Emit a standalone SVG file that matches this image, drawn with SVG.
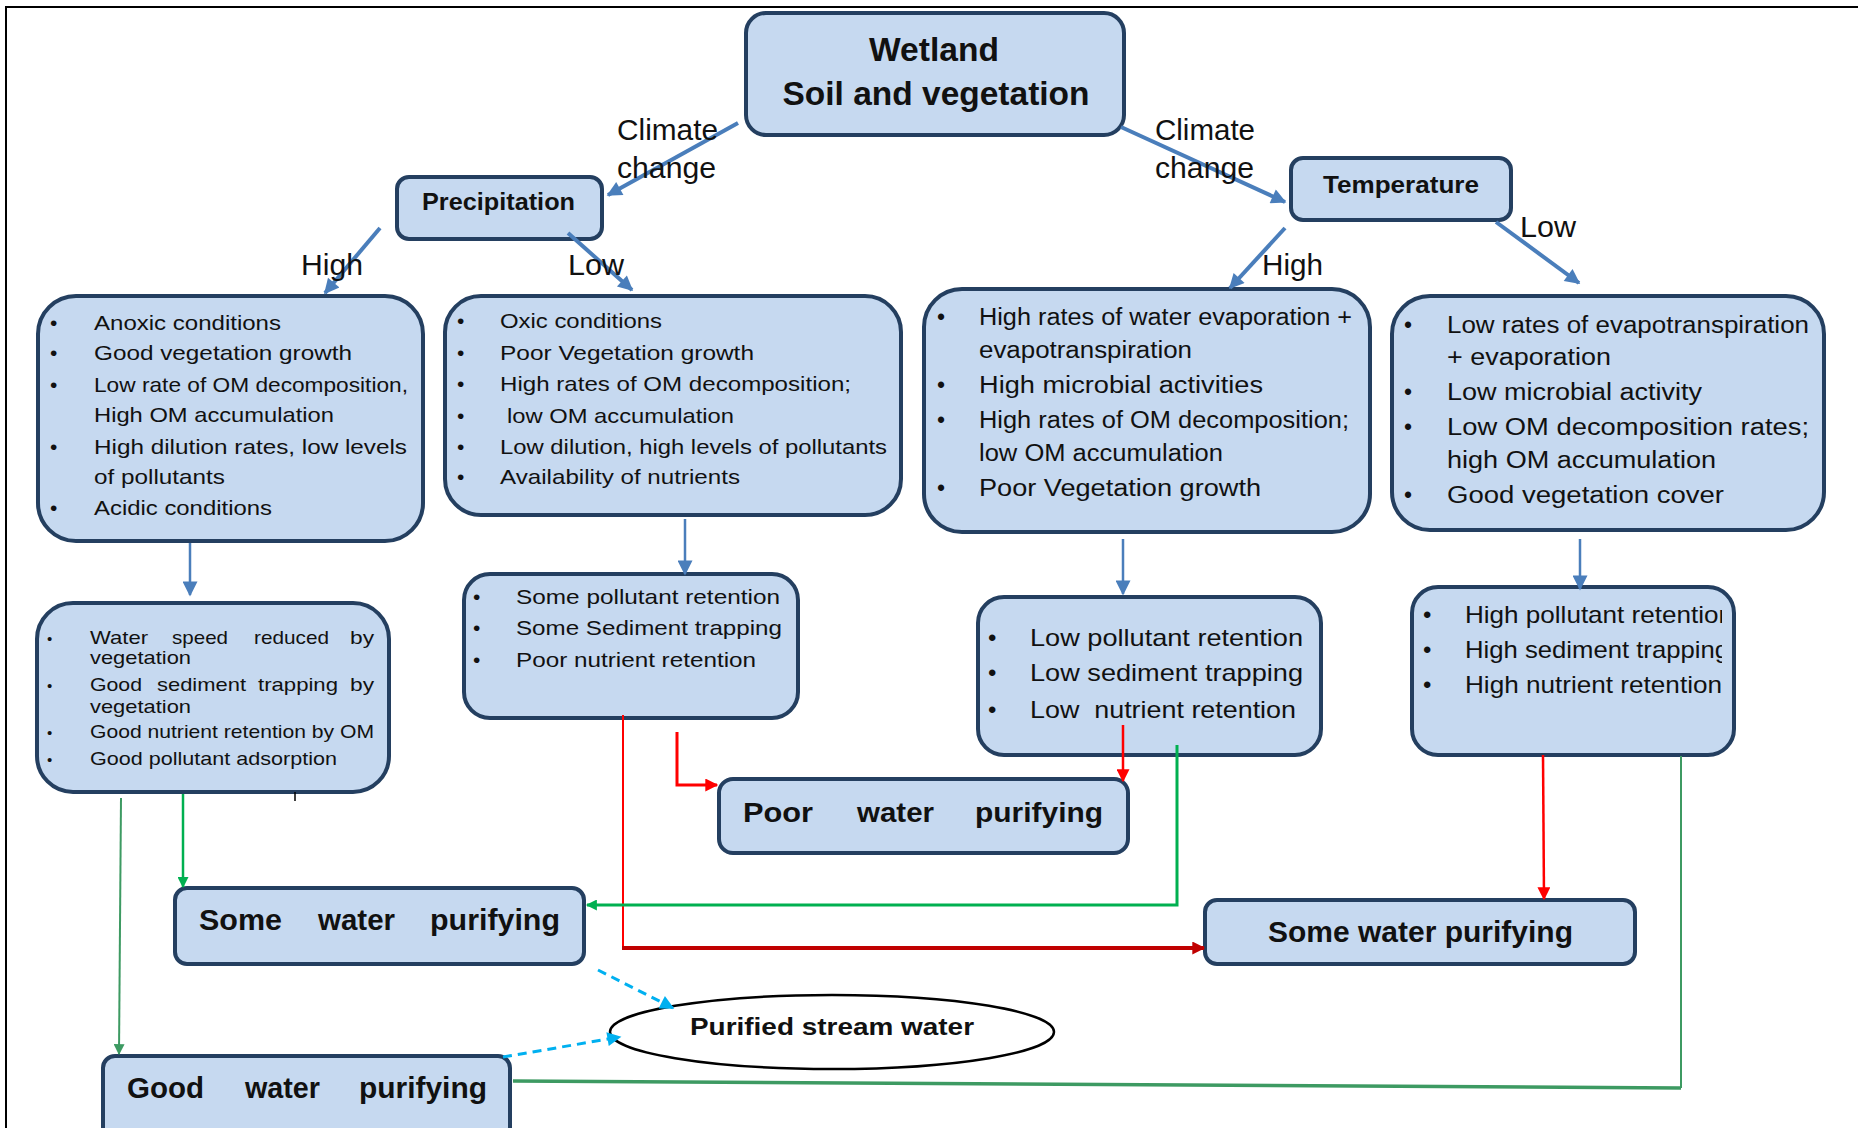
<svg xmlns="http://www.w3.org/2000/svg" width="1858" height="1128" viewBox="0 0 1858 1128">
<style>
.box{fill:#c6d9f0;stroke:#243f60;stroke-width:4}
.t{font-family:"Liberation Sans",Arial,sans-serif;fill:#111}
.b{font-weight:bold}
.s21{font-size:21px}
.s23{font-size:23px}
.s19{font-size:19px}
.s24{font-size:24px}
.s29{font-size:29px}
.lbl{font-family:"Liberation Sans",Arial,sans-serif;font-size:30px;fill:#111}
.blue{stroke:#4a7ebb;stroke-width:4;fill:none}
.red{stroke:#ff0000;fill:none}
.green{stroke:#00b050;fill:none}
.sea{stroke:#3d9a62;fill:none}
.cyan{stroke:#00b0f0;stroke-width:3;stroke-dasharray:9 6;fill:none}
</style>
<defs>
<marker id="ab" viewBox="0 0 10 10" refX="9" refY="5" markerUnits="userSpaceOnUse" markerWidth="18" markerHeight="15" orient="auto"><path d="M0,0 L10,5 L0,10 z" fill="#4a7ebb"/></marker>
<marker id="ar" viewBox="0 0 10 10" refX="9" refY="5" markerUnits="userSpaceOnUse" markerWidth="14" markerHeight="13" orient="auto"><path d="M0,0 L10,5 L0,10 z" fill="#ff0000"/></marker>
<marker id="adr" viewBox="0 0 10 10" refX="9" refY="5" markerUnits="userSpaceOnUse" markerWidth="14" markerHeight="13" orient="auto"><path d="M0,0 L10,5 L0,10 z" fill="#c00000"/></marker>
<marker id="ag" viewBox="0 0 10 10" refX="9" refY="5" markerUnits="userSpaceOnUse" markerWidth="12" markerHeight="11" orient="auto"><path d="M0,0 L10,5 L0,10 z" fill="#00b050"/></marker>
<marker id="as" viewBox="0 0 10 10" refX="9" refY="5" markerUnits="userSpaceOnUse" markerWidth="12" markerHeight="11" orient="auto"><path d="M0,0 L10,5 L0,10 z" fill="#3d9a62"/></marker>
<marker id="ac" viewBox="0 0 10 10" refX="9" refY="5" markerUnits="userSpaceOnUse" markerWidth="16" markerHeight="14" orient="auto"><path d="M0,0 L10,5 L0,10 z" fill="#00b0f0"/></marker>
<clipPath id="clipH"><rect x="1412" y="586" width="310" height="170"/></clipPath>
</defs>
<rect x="0" y="0" width="1858" height="1128" fill="#fff"/>
<path d="M6,1128 L6,7 L1858,7" fill="none" stroke="#000" stroke-width="2"/>

<g id="wetland">
<rect class="box" x="746" y="13" width="378" height="122" rx="20"/>
<text class="t b" x="934" y="61" font-size="34" text-anchor="middle" textLength="130" lengthAdjust="spacingAndGlyphs">Wetland</text>
<text class="t b" x="936" y="105" font-size="34" text-anchor="middle" textLength="307" lengthAdjust="spacingAndGlyphs">Soil and vegetation</text>
</g>
<g id="precipitation">
<rect class="box" x="397" y="177" width="205" height="62" rx="12"/>
<text class="t b s24" x="422" y="210" textLength="153" lengthAdjust="spacingAndGlyphs">Precipitation</text>
</g>
<g id="temperature">
<rect class="box" x="1291" y="158" width="220" height="62" rx="12"/>
<text class="t b s24" x="1323" y="193" textLength="156" lengthAdjust="spacingAndGlyphs">Temperature</text>
</g>

<g id="boxA">
<rect class="box" x="38" y="296" width="385" height="245" rx="38"/>
<g class="t s21">
<text x="50" y="330">•</text><text x="94" y="330" textLength="187" lengthAdjust="spacingAndGlyphs">Anoxic conditions</text>
<text x="50" y="360">•</text><text x="94" y="360" textLength="258" lengthAdjust="spacingAndGlyphs">Good vegetation growth</text>
<text x="50" y="392">•</text><text x="94" y="392" textLength="314" lengthAdjust="spacingAndGlyphs">Low rate of OM decomposition,</text>
<text x="94" y="422" textLength="240" lengthAdjust="spacingAndGlyphs">High OM accumulation</text>
<text x="50" y="454">•</text><text x="94" y="454" textLength="313" lengthAdjust="spacingAndGlyphs">High dilution rates, low levels</text>
<text x="94" y="484" textLength="131" lengthAdjust="spacingAndGlyphs">of pollutants</text>
<text x="50" y="515">•</text><text x="94" y="515" textLength="178" lengthAdjust="spacingAndGlyphs">Acidic conditions</text>
</g>
</g>

<g id="boxB">
<rect class="box" x="445" y="296" width="456" height="219" rx="36"/>
<g class="t s21">
<text x="457" y="328">•</text><text x="500" y="328" textLength="162" lengthAdjust="spacingAndGlyphs">Oxic conditions</text>
<text x="457" y="360">•</text><text x="500" y="360" textLength="254" lengthAdjust="spacingAndGlyphs">Poor Vegetation growth</text>
<text x="457" y="391">•</text><text x="500" y="391" textLength="351" lengthAdjust="spacingAndGlyphs">High rates of OM decomposition;</text>
<text x="457" y="423">•</text><text x="507" y="423" textLength="227" lengthAdjust="spacingAndGlyphs">low OM accumulation</text>
<text x="457" y="454">•</text><text x="500" y="454" textLength="387" lengthAdjust="spacingAndGlyphs">Low dilution, high levels of pollutants</text>
<text x="457" y="484">•</text><text x="500" y="484" textLength="240" lengthAdjust="spacingAndGlyphs">Availability of nutrients</text>
</g>
</g>

<g id="boxC">
<rect class="box" x="924" y="289" width="446" height="243" rx="38"/>
<g class="t s23">
<text x="937" y="325">•</text><text x="979" y="325" textLength="373" lengthAdjust="spacingAndGlyphs">High rates of water evaporation +</text>
<text x="979" y="358" textLength="213" lengthAdjust="spacingAndGlyphs">evapotranspiration</text>
<text x="937" y="393">•</text><text x="979" y="393" textLength="284" lengthAdjust="spacingAndGlyphs">High microbial activities</text>
<text x="937" y="428">•</text><text x="979" y="428" textLength="370" lengthAdjust="spacingAndGlyphs">High rates of OM decomposition;</text>
<text x="979" y="461" textLength="244" lengthAdjust="spacingAndGlyphs">low OM accumulation</text>
<text x="937" y="496">•</text><text x="979" y="496" textLength="282" lengthAdjust="spacingAndGlyphs">Poor Vegetation growth</text>
</g>
</g>

<g id="boxD">
<rect class="box" x="1392" y="296" width="432" height="234" rx="38"/>
<g class="t s23">
<text x="1404" y="333">•</text><text x="1447" y="333" textLength="362" lengthAdjust="spacingAndGlyphs">Low rates of evapotranspiration</text>
<text x="1447" y="365" textLength="164" lengthAdjust="spacingAndGlyphs">+ evaporation</text>
<text x="1404" y="400">•</text><text x="1447" y="400" textLength="255" lengthAdjust="spacingAndGlyphs">Low microbial activity</text>
<text x="1404" y="435">•</text><text x="1447" y="435" textLength="362" lengthAdjust="spacingAndGlyphs">Low OM decomposition rates;</text>
<text x="1447" y="468" textLength="269" lengthAdjust="spacingAndGlyphs">high OM accumulation</text>
<text x="1404" y="503">•</text><text x="1447" y="503" textLength="277" lengthAdjust="spacingAndGlyphs">Good vegetation cover</text>
</g>
</g>

<g id="boxE">
<rect class="box" x="37" y="603" width="352" height="189" rx="36"/>
<g class="t s19">
<text x="47" y="644" font-size="15">•</text>
<text y="644"><tspan x="90" textLength="58" lengthAdjust="spacingAndGlyphs">Water</tspan><tspan x="172" textLength="56" lengthAdjust="spacingAndGlyphs">speed</tspan><tspan x="254" textLength="75" lengthAdjust="spacingAndGlyphs">reduced</tspan><tspan x="350" textLength="24" lengthAdjust="spacingAndGlyphs">by</tspan></text>
<text x="90" y="664" textLength="101" lengthAdjust="spacingAndGlyphs">vegetation</text>
<text x="47" y="691" font-size="15">•</text>
<text y="691"><tspan x="90" textLength="52" lengthAdjust="spacingAndGlyphs">Good</tspan><tspan x="157" textLength="89" lengthAdjust="spacingAndGlyphs">sediment</tspan><tspan x="258" textLength="80" lengthAdjust="spacingAndGlyphs">trapping</tspan><tspan x="350" textLength="24" lengthAdjust="spacingAndGlyphs">by</tspan></text>
<text x="90" y="713" textLength="101" lengthAdjust="spacingAndGlyphs">vegetation</text>
<text x="47" y="738" font-size="15">•</text><text x="90" y="738" textLength="284" lengthAdjust="spacingAndGlyphs">Good nutrient retention by OM</text>
<text x="47" y="765" font-size="15">•</text><text x="90" y="765" textLength="247" lengthAdjust="spacingAndGlyphs">Good pollutant adsorption</text>
</g>
</g>

<g id="boxF">
<rect class="box" x="464" y="574" width="334" height="144" rx="26"/>
<g class="t s21">
<text x="473" y="604">•</text><text x="516" y="604" textLength="264" lengthAdjust="spacingAndGlyphs">Some pollutant retention</text>
<text x="473" y="635">•</text><text x="516" y="635" textLength="266" lengthAdjust="spacingAndGlyphs">Some Sediment trapping</text>
<text x="473" y="667">•</text><text x="516" y="667" textLength="240" lengthAdjust="spacingAndGlyphs">Poor nutrient retention</text>
</g>
</g>

<g id="boxG">
<rect class="box" x="978" y="597" width="343" height="158" rx="26"/>
<g class="t s24">
<text x="988" y="646">•</text><text x="1030" y="646" textLength="273" lengthAdjust="spacingAndGlyphs">Low pollutant retention</text>
<text x="988" y="681">•</text><text x="1030" y="681" textLength="273" lengthAdjust="spacingAndGlyphs">Low sediment trapping</text>
<text x="988" y="718">•</text><text x="1030" y="718" textLength="266" lengthAdjust="spacingAndGlyphs" style="white-space:pre">Low  nutrient retention</text>
</g>
</g>

<g id="boxH">
<rect class="box" x="1412" y="587" width="322" height="168" rx="26"/>
<g class="t s24" clip-path="url(#clipH)">
<text x="1423" y="623">•</text><text x="1465" y="623" textLength="268" lengthAdjust="spacingAndGlyphs">High pollutant retention</text>
<text x="1423" y="658">•</text><text x="1465" y="658" textLength="264" lengthAdjust="spacingAndGlyphs">High sediment trapping</text>
<text x="1423" y="693">•</text><text x="1465" y="693" textLength="257" lengthAdjust="spacingAndGlyphs">High nutrient retention</text>
</g>
</g>

<g id="poor">
<rect class="box" x="719" y="779" width="409" height="74" rx="14"/>
<text class="t b" y="822" font-size="28"><tspan x="743" textLength="70" lengthAdjust="spacingAndGlyphs">Poor</tspan><tspan x="857" textLength="77" lengthAdjust="spacingAndGlyphs">water</tspan><tspan x="975" textLength="128" lengthAdjust="spacingAndGlyphs">purifying</tspan></text>
</g>
<g id="someLeft">
<rect class="box" x="175" y="888" width="409" height="76" rx="12"/>
<text class="t b s29" y="930"><tspan x="199" textLength="83" lengthAdjust="spacingAndGlyphs">Some</tspan><tspan x="318" textLength="77" lengthAdjust="spacingAndGlyphs">water</tspan><tspan x="430" textLength="130" lengthAdjust="spacingAndGlyphs">purifying</tspan></text>
</g>
<g id="someRight">
<rect class="box" x="1205" y="900" width="430" height="64" rx="12"/>
<text class="t b s29" x="1268" y="942" textLength="305" lengthAdjust="spacingAndGlyphs">Some water purifying</text>
</g>
<g id="good">
<rect class="box" x="103" y="1056" width="407" height="90" rx="12"/>
<text class="t b s29" y="1098"><tspan x="127" textLength="77" lengthAdjust="spacingAndGlyphs">Good</tspan><tspan x="245" textLength="75" lengthAdjust="spacingAndGlyphs">water</tspan><tspan x="359" textLength="128" lengthAdjust="spacingAndGlyphs">purifying</tspan></text>
</g>
<g id="purified">
<ellipse cx="832" cy="1032" rx="222" ry="37" fill="#fff" stroke="#000" stroke-width="2.5"/>
<text class="t b s24" x="690" y="1035" textLength="284" lengthAdjust="spacingAndGlyphs">Purified stream water</text>
</g>

<g id="connectors">
<path class="blue" d="M738,123 L608,195" marker-end="url(#ab)"/>
<path class="blue" d="M1121,127 L1285,202" marker-end="url(#ab)"/>
<path class="blue" d="M380,228 L325,293" marker-end="url(#ab)"/>
<path class="blue" d="M568,233 L632,290" marker-end="url(#ab)"/>
<path class="blue" d="M1285,228 L1230,288" marker-end="url(#ab)"/>
<path class="blue" d="M1496,222 L1579,283" marker-end="url(#ab)"/>
<path class="blue" style="stroke-width:2.5" d="M190,543 L190,595" marker-end="url(#ab)"/>
<path class="blue" style="stroke-width:2.5" d="M685,519 L685,574" marker-end="url(#ab)"/>
<path class="blue" style="stroke-width:2.5" d="M1123,539 L1123,594" marker-end="url(#ab)"/>
<path class="blue" style="stroke-width:2.5" d="M1580,539 L1580,589" marker-end="url(#ab)"/>

<path class="red" stroke-width="2" d="M623,715 L623,948"/>
<path d="M622,948 L1204,948" stroke="#c00000" stroke-width="4" fill="none" marker-end="url(#adr)"/>
<path class="red" stroke-width="3" d="M677,732 L677,785 L717,785" marker-end="url(#ar)"/>
<path class="red" stroke-width="2.5" d="M1123,725 L1123,781" marker-end="url(#ar)"/>
<path class="red" stroke-width="2.5" d="M1543,755 L1544,899" marker-end="url(#ar)"/>

<path class="green" stroke-width="2.5" d="M183,794 L183,887" marker-end="url(#ag)"/>
<path class="sea" stroke-width="2" d="M121,798 L119,1054" marker-end="url(#as)"/>
<path class="green" stroke-width="3" d="M1177,745 L1177,905 L587,905" marker-end="url(#ag)"/>
<path class="sea" stroke-width="2" d="M1681,756 L1681,1088"/>
<path class="sea" stroke-width="3.5" d="M1681,1088 L513,1081"/>

<path class="cyan" d="M598,970 L673,1008" marker-end="url(#ac)"/>
<path class="cyan" d="M503,1057 L620,1037" marker-end="url(#ac)"/>
<path d="M295,792 L295,801" stroke="#000" stroke-width="1.5"/>
</g>

<g id="labels">
<text class="lbl" x="617" y="140" textLength="101" lengthAdjust="spacingAndGlyphs">Climate</text>
<text class="lbl" x="617" y="178" textLength="99" lengthAdjust="spacingAndGlyphs">change</text>
<text class="lbl" x="1155" y="140" textLength="100" lengthAdjust="spacingAndGlyphs">Climate</text>
<text class="lbl" x="1155" y="178" textLength="99" lengthAdjust="spacingAndGlyphs">change</text>
<text class="lbl" x="301" y="275" textLength="62" lengthAdjust="spacingAndGlyphs">High</text>
<text class="lbl" x="568" y="275" textLength="56" lengthAdjust="spacingAndGlyphs">Low</text>
<text class="lbl" x="1262" y="275" textLength="61" lengthAdjust="spacingAndGlyphs">High</text>
<text class="lbl" x="1520" y="237" textLength="56" lengthAdjust="spacingAndGlyphs">Low</text>
</g>
</svg>
